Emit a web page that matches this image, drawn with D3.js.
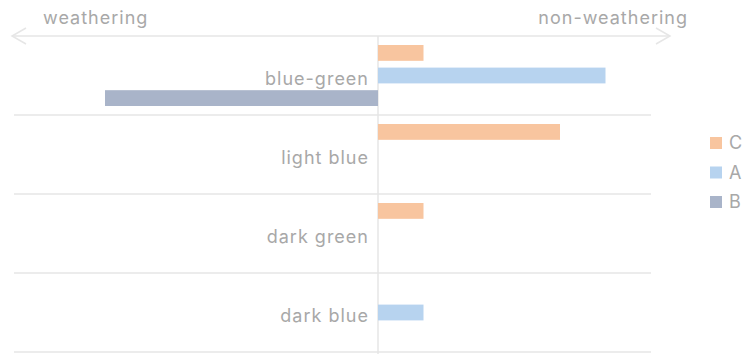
<!DOCTYPE html>
<html>
<head>
<meta charset="utf-8">
<script src="https://cdn.jsdelivr.net/npm/d3@7"></script>
<style>
  html, body { margin: 0; padding: 0; background: #fff; }
  svg { display: block; font-family: "Inter", "Roboto", sans-serif; letter-spacing: 1px; }
</style>
</head>
<body>
<svg id="chart" width="744" height="354"></svg>
<script>
// Glass colour categories, top to bottom
const categories = ["blue-green", "light blue", "dark green", "dark blue"];
// Series, in the order they sit inside each band
const seriesKeys = ["C", "A", "B"];
const seriesC = [1, 4, 1, 0];
const seriesA = [5, 0, 0, 1];
const seriesB = [-6, 0, 0, 0];
const xDomain = [-8, 6];
const leftLabel = "weathering";
const rightLabel = "non-weathering";

const colors = { C: "#f8c59f", A: "#b7d3ef", B: "#a9b4c9" };
const valuesBySeries = { C: seriesC, A: seriesA, B: seriesB };

const svg = d3.select("#chart");
const textColor = "#a8a8a8";
const ruleColor = "#e6e6e6";
const fontSize = 18;

const x = d3.scaleLinear().domain(xDomain).range([14, 651]);
const y0 = d3.scaleBand().domain(categories).range([36, 352]);
const y1 = d3.scaleBand().domain(seriesKeys).range([9, 70]).paddingInner(0.3);

// Direction arrow across the top
const arrowY = y0.range()[0];
const ax0 = 12, ax1 = 670;
svg.append("line")
  .attr("x1", ax0).attr("x2", ax1).attr("y1", arrowY).attr("y2", arrowY)
  .attr("stroke", ruleColor).attr("stroke-width", 1.5);
svg.append("path")
  .attr("d", `M${ax0 + 14},${arrowY - 8} L${ax0},${arrowY} L${ax0 + 14},${arrowY + 8}`)
  .attr("fill", "none").attr("stroke", ruleColor).attr("stroke-width", 1.5);
svg.append("path")
  .attr("d", `M${ax1 - 14},${arrowY - 8} L${ax1},${arrowY} L${ax1 - 14},${arrowY + 8}`)
  .attr("fill", "none").attr("stroke", ruleColor).attr("stroke-width", 1.5);

svg.append("text").attr("x", 43).attr("y", 24)
  .attr("font-size", fontSize).attr("fill", textColor).text(leftLabel);
svg.append("text").attr("x", 688).attr("y", 24).attr("text-anchor", "end")
  .attr("font-size", fontSize).attr("fill", textColor).text(rightLabel);

// Band separators
svg.append("g").selectAll("line")
  .data(categories)
  .join("line")
  .attr("x1", x(xDomain[0])).attr("x2", x(xDomain[1]))
  .attr("y1", d => y0(d) + y0.bandwidth())
  .attr("y2", d => y0(d) + y0.bandwidth())
  .attr("stroke", ruleColor).attr("stroke-width", 1.5);

// Zero line
svg.append("line")
  .attr("x1", x(0)).attr("x2", x(0))
  .attr("y1", y0.range()[0]).attr("y2", 354)
  .attr("stroke", ruleColor).attr("stroke-width", 1.5);

// Bars
const groups = svg.append("g").selectAll("g")
  .data(categories)
  .join("g")
  .attr("transform", d => `translate(0,${y0(d)})`);

groups.selectAll("rect")
  .data((d, i) => seriesKeys.map(k => ({ key: k, value: valuesBySeries[k][i] })))
  .join("rect")
  .filter(d => d.value !== 0)
  .attr("x", d => x(Math.min(0, d.value)))
  .attr("width", d => Math.abs(x(d.value) - x(0)))
  .attr("y", d => y1(d.key))
  .attr("height", y1.bandwidth())
  .attr("fill", d => colors[d.key]);

// Category labels beside the zero line
svg.append("g").selectAll("text")
  .data(categories)
  .join("text")
  .attr("x", x(0) - 9)
  .attr("y", d => y0(d) + y0.bandwidth() / 2)
  .attr("dy", "0.5em")
  .attr("text-anchor", "end")
  .attr("font-size", fontSize)
  .attr("fill", textColor)
  .text(d => d);

// Legend
const legend = svg.append("g").selectAll("g")
  .data(seriesKeys)
  .join("g")
  .attr("transform", (d, i) => `translate(710,${137 + i * 29.5})`);
legend.append("rect").attr("width", 12).attr("height", 12)
  .attr("fill", d => colors[d]);
legend.append("text").attr("x", 19).attr("y", 6).attr("dy", "0.36em")
  .attr("font-size", fontSize).attr("fill", textColor).text(d => d);
</script>
</body>
</html>
